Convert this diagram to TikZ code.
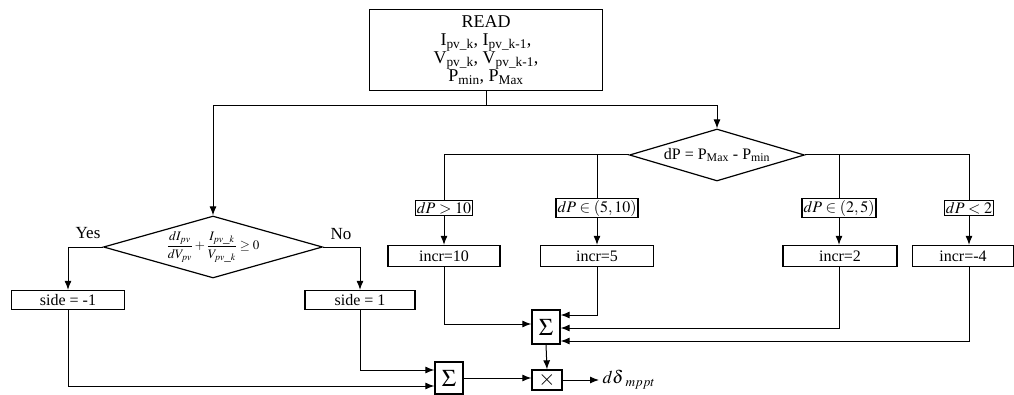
\documentclass[tikz,border=0pt]{standalone}
\usepackage{mathptmx}
\usepackage[no-math]{fontspec}
\setmainfont{Liberation Serif}
\usetikzlibrary{shapes.geometric,arrows.meta}

\begin{document}
\begin{tikzpicture}[x=1pt,y=1pt,line width=1pt,
  arr/.style={-{Latex[length=9pt,width=7pt]}},
  blk/.style={draw,line width=1.3pt,inner sep=1pt,font=\fontsize{16}{17}\selectfont},
  incrbox/.style={blk,minimum height=21pt},
  condbox/.style={blk,inner sep=1.5pt},
  decision/.style={draw,diamond,line width=1.2pt},
  opbox/.style={draw,line width=1.3pt,minimum width=28pt,inner sep=0pt}]
  \useasboundingbox (0,0) rectangle (1014,394);
  % input block
  \node[blk,minimum width=233pt,minimum height=81pt,align=center,font=\fontsize{18}{18}\selectfont] (read) at (486,344)
    {READ\\ I\textsubscript{pv\_k}, I\textsubscript{pv\_k-1},\\ V\textsubscript{pv\_k}, V\textsubscript{pv\_k-1},\\ P\textsubscript{min}, P\textsubscript{Max}};
  \coordinate (split) at (486,288);
  % incremental conductance test
  \node[decision,aspect=3.53,inner sep=-3pt,minimum width=219pt,minimum height=62pt,font=\fontsize{13}{14}\selectfont] (inc) at (213,147)
    {$\displaystyle\frac{dI_{pv}}{dV_{pv}}+\frac{I_{pv\_k}}{V_{pv\_k}}\geq 0$};
  \node[font=\fontsize{17}{17}\selectfont] (yes) at (88,161) {Yes};
  \node[font=\fontsize{17}{17}\selectfont] (no) at (341,160) {No};
  \node[blk,minimum width=113pt,minimum height=19pt] (sideneg) at (68,94) {side = -1};
  \node[blk,minimum width=110pt,minimum height=19pt] (sidepos) at (360,94) {side = 1};
  % power difference and step size
  \node[decision,aspect=3.37,inner sep=-2pt,minimum width=175pt,minimum height=52pt,font=\fontsize{16}{17}\selectfont] (dp) at (717,239)
    {dP = P\textsubscript{Max} - P\textsubscript{min}};
  \node[condbox] (c1) at (444,186) {$dP>10$};
  \node[condbox] (c2) at (597,186) {$dP\in(5,10)$};
  \node[condbox] (c3) at (839,186) {$dP\in(2,5)$};
  \node[condbox] (c4) at (969,186) {$dP<2$};
  \node[incrbox,minimum width=112pt] (i1) at (444,138) {incr=10};
  \node[incrbox,minimum width=113pt] (i2) at (597,138) {incr=5};
  \node[incrbox,minimum width=114pt] (i3) at (840,138) {incr=2};
  \node[incrbox,minimum width=101pt] (i4) at (963,138) {incr=-4};
  % operators
  \node[opbox,minimum height=34pt,font=\fontsize{24}{24}\selectfont] (sum1) at (546,67) {$\Sigma$};
  \node[opbox,minimum height=32pt,font=\fontsize{24}{24}\selectfont] (sum2) at (449,16) {$\Sigma$};
  \node[opbox,minimum width=30pt,minimum height=20pt,font=\fontsize{22}{22}\selectfont] (mult) at (547,14) {$\times$};
  \coordinate (out) at (599,14);
  \node[anchor=west,font=\fontsize{18}{18}\selectfont,inner sep=1pt,xshift=2pt] (ddelta) at (out) {$d\delta\,_{mppt}$};
  % connectors
  \draw (read.south) -- (split);
  \draw[arr] (split) -| (inc.north);
  \draw[arr] (split) -| (dp.north);
  \draw[arr] (inc.west) -| (sideneg.north);
  \draw[arr] (inc.east) -| (sidepos.north);
  \draw (dp.west) -| (c1.north);
  \draw (dp.east) -| (c4.north);
  \draw (c2.north |- dp.west) -- (c2.north);
  \draw (c3.north |- dp.east) -- (c3.north);
  \foreach \c/\i in {c1/i1,c2/i2,c3/i3}
    \draw[arr] (\c.south) -- (\c.south |- \i.north);
  \draw[arr] (c4.south) -- (c4.south |- i4.north);
  \draw[arr] (c1.south |- i1.south) |- ([yshift=3pt]sum1.west);
  \draw[arr] (c2.south |- i2.south) |- ([yshift=12pt]sum1.east);
  \draw[arr] (c3.south |- i3.south) |- ([yshift=-1pt]sum1.east);
  \draw[arr] (c4.south |- i4.south) |- ([yshift=-14pt]sum1.east);
  \draw[arr] (sidepos.south) |- ([yshift=8pt]sum2.west);
  \draw[arr] (sideneg.south) |- ([yshift=-8pt]sum2.west);
  \draw[arr] (sum2.east) -- (sum2.east -| mult.west);
  \draw[arr] (sum1.south) -- (mult.north);
  \draw[arr] (mult.east) -- (out);
\end{tikzpicture}
\end{document}
